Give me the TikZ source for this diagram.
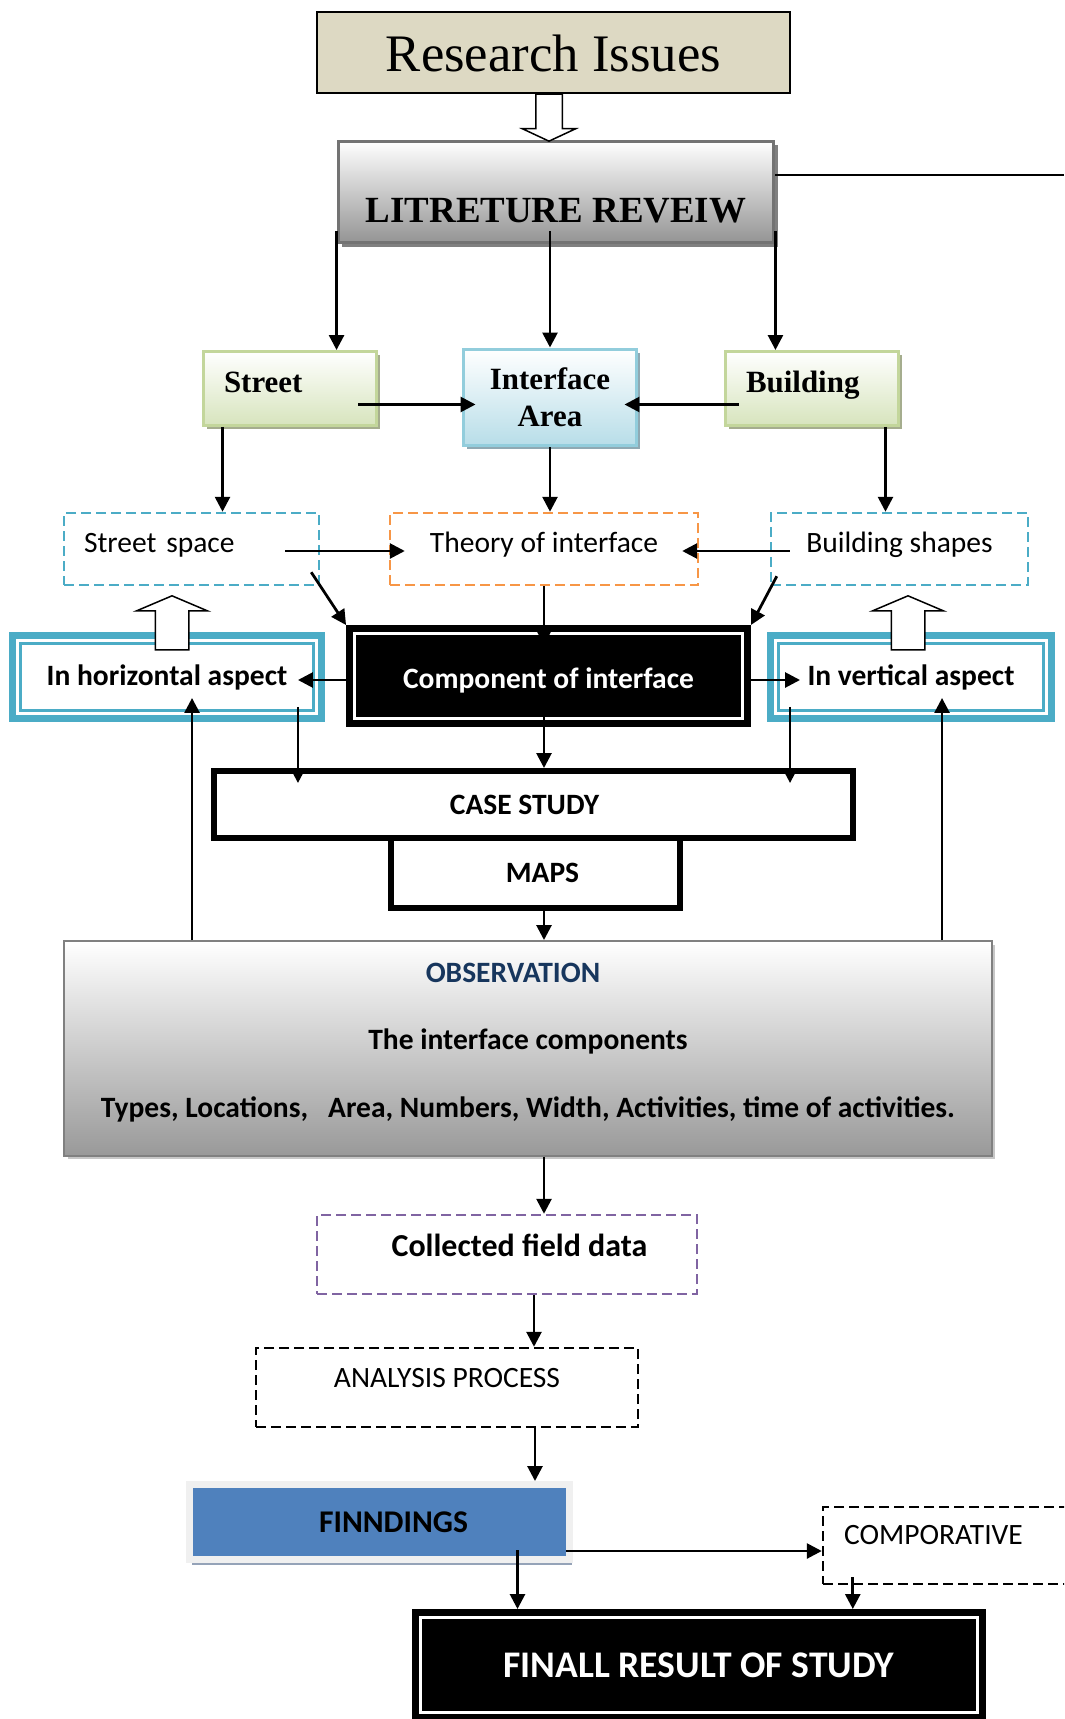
\documentclass[tikz,border=0pt]{standalone}
\usepackage{fontspec}
\setmainfont{Liberation Serif}
\newfontfamily\calfont{Carlito}
\usetikzlibrary{arrows.meta,positioning,shapes.arrows,shadows}
\definecolor{issuetan}{HTML}{DDD9C3}
\definecolor{leafgreen}{HTML}{D7E4BD}
\definecolor{leafedge}{HTML}{C3D69B}
\definecolor{leafshade}{HTML}{A5AD8E}
\definecolor{skyblue}{HTML}{B7DDE8}
\definecolor{skyedge}{HTML}{92CDDC}
\definecolor{skyshade}{HTML}{8FA9B3}
\definecolor{aspblue}{HTML}{4BACC6}
\definecolor{thorange}{HTML}{F79646}
\definecolor{datapurple}{HTML}{8064A2}
\definecolor{obsnavy}{HTML}{17365D}
\definecolor{findblue}{HTML}{4F81BD}
\definecolor{findshade}{HTML}{95A3B8}

\begin{document}
\begin{tikzpicture}[
  x=0.02cm, y=-0.02cm,   % 1 unit = 1 px of the original sheet, y pointing down
  >={Triangle[length=0.3cm,width=0.3cm]},
  link/.style    ={->, line width=0.055cm},
  calib/.style   ={font=\calfont\fontsize{16.8}{20}\selectfont},
  calibb/.style  ={font=\calfont\bfseries\fontsize{16.8}{20}\selectfont},
  issuebox/.style={draw, line width=0.04cm, fill=issuetan, minimum width=9.48cm, minimum height=1.62cm,
                   font=\fontsize{30}{36}\selectfont},
  litbox/.style  ={draw=black!55, line width=0.06cm, top color=white, bottom color=black!42,
                   drop shadow={shadow xshift=0.08cm, shadow yshift=-0.08cm, fill=black!50, opacity=1},
                   minimum width=8.72cm, inner ysep=0pt, text height=1.64cm, text depth=0.4cm,
                   font=\bfseries\fontsize{21}{25}\selectfont},
  leafbox/.style ={draw=leafedge, line width=0.06cm, top color=white, bottom color=leafgreen,
                   drop shadow={shadow xshift=0.07cm, shadow yshift=-0.07cm, fill=leafshade, opacity=1},
                   text width=2.64cm, align=left, inner xsep=0.42cm, inner ysep=0pt,
                   text height=0.82cm, text depth=0.66cm, font=\bfseries\fontsize{17.6}{21}\selectfont},
  skybox/.style  ={draw=skyedge, line width=0.06cm, top color=white, bottom color=skyblue,
                   drop shadow={shadow xshift=0.07cm, shadow yshift=-0.07cm, fill=skyshade, opacity=1},
                   minimum width=3.48cm, minimum height=1.94cm, align=center,
                   font=\bfseries\fontsize{17.6}{21}\selectfont},
  dashbox/.style ={draw, dash pattern=on 0.2cm off 0.1cm, line width=0.05cm, inner ysep=0pt,
                   text height=0.78cm, text depth=0.66cm, calib},
  aspect/.style  ={draw=aspblue, line width=0.14cm, fill=white, minimum height=1.66cm, calibb},
  blackbox/.style={draw=black, fill=black, line width=0.14cm, double=white, double distance=0.06cm,
                   outer sep=0.17cm, text=white},
  framebox/.style={draw, line width=0.12cm, fill=white, calibb},
  obsbox/.style  ={draw=black!50, line width=0.04cm, top color=white, bottom color=black!40,
                   drop shadow={shadow xshift=0.07cm, shadow yshift=-0.07cm, fill=black!22, opacity=1},
                   minimum width=18.56cm, inner ysep=0pt, text height=3.53cm, text depth=0.77cm, align=center,
                   font=\calfont\bfseries\fontsize{16.8}{38.5}\selectfont},
  findbox/.style ={draw=black!6, line width=0.14cm, fill=findblue,
                   drop shadow={shadow xshift=0.05cm, shadow yshift=-0.1cm, fill=findshade, opacity=1},
                   minimum width=7.6cm, minimum height=1.5cm,
                   font=\calfont\bfseries\fontsize{18}{22}\selectfont},
  hollow/.style  ={single arrow, draw, fill=white, line width=0.03cm, inner xsep=0pt,
                   single arrow head indent=0pt}
]
\useasboundingbox (0,0) rectangle (1064,1719);
\clip (0,0) rectangle (1064,1719);

% --- top of the chain
\node[issuebox] (issues) at (553.5,53) {Research Issues};
\node[litbox] (lit) at (556,192) {LITRETURE REVEIW};

% --- the three themes
\node[leafbox] (street) at (290,388.5) {Street};
\node[skybox] (iface) at (550,397.5) {Interface\\Area};
\node[leafbox] (building) at (812,388.5) {Building};

\node[dashbox, draw=aspblue, text width=4.3cm, align=left, inner xsep=0.4cm] (sspace) at (191.5,549) {Street space};
\node[dashbox, draw=thorange, minimum width=6.16cm] (theory) at (544,549) {Theory of interface};
\node[dashbox, draw=aspblue, minimum width=5.14cm] (bshapes) at (899.5,549) {Building shapes};

% --- components and case study
\node[aspect, minimum width=6.18cm] (horiz) at (167,677) {In horizontal aspect};
\node[blackbox, minimum width=7.76cm, inner ysep=0pt, text height=1.1cm, text depth=0.6cm, calibb] (comp) at (548.5,676) {Component of interface};
\node[aspect, minimum width=5.62cm] (vert) at (911,677) {In vertical aspect};
\foreach \n in {horiz,vert}
  \draw[aspblue, line width=0.06cm] ([shift={(11,-11)}]\n.south west) rectangle ([shift={(-11,11)}]\n.north east);

\node[framebox, minimum width=12.78cm, minimum height=1.34cm] (casest) at (533.5,804.5) {\hspace*{-0.36cm}CASE STUDY};
\node[framebox, minimum width=5.78cm, minimum height=1.4cm] (maps) at (535.5,873) {\hspace*{0.28cm}MAPS};

\node[obsbox] (obs) at (528,1048.5)
  {\hspace*{-0.6cm}\textcolor{obsnavy}{OBSERVATION}\\The interface components\\Types, Locations,\ \ \ Area, Numbers, Width, Activities, time of activities.};

% --- field work and results
\node[dashbox, draw=datapurple, minimum width=7.6cm, text height=0.82cm, text depth=0.76cm,
      font=\calfont\bfseries\fontsize{18.2}{22}\selectfont] (fielddata) at (507,1254.5) {\hspace*{0.5cm}Collected field data};
\node[dashbox, minimum width=7.64cm, text depth=0.8cm] (analysis) at (447,1387.5) {ANALYSIS PROCESS};
\node[findbox] (findings) at (379.5,1522) {\hspace*{0.56cm}FINNDINGS};
\node[dashbox, text width=4.3cm, align=left, inner xsep=0.42cm, text height=0.74cm, text depth=0.8cm] (compo) at (951.5,1545.5) {COMPORATIVE};
\node[blackbox, minimum width=11.14cm, minimum height=1.9cm, font=\calfont\bfseries\fontsize{21.4}{25}\selectfont] (final) at (699,1665) {FINALL RESULT OF STUDY};

% --- connectors
\draw[link] ([yshift=0.26cm]lit.south west) coordinate (lt1) -- (lt1 |- street.north);
\coordinate (lt2) at ([yshift=0.26cm]lit.south);
\draw[link] (iface.north |- lt2) -- (iface.north);
\draw[link] ([yshift=0.26cm]lit.south east) coordinate (lt3) -- (lt3 |- building.north);
\coordinate (edgeR) at (1064,175);
\draw[line width=0.05cm] (lit.east |- edgeR) -- (edgeR);

\draw[link, shorten >=-0.28cm] ([shift={(-20,16)}]street.east) coordinate (st1) -- (st1 -| iface.west);
\draw[link, shorten >=-0.28cm] ([shift={(15,16)}]building.west) coordinate (bd1) -- (bd1 -| iface.east);
\draw[link] ([xshift=0.42cm]street.south west) coordinate (st2) -- (st2 |- sspace.north);
\draw[link] (iface.south) -- (iface.south |- theory.north);
\draw[link] ([xshift=-0.3cm]building.south east) coordinate (bd2) -- (bd2 |- bshapes.north);
\draw[link, shorten >=-0.32cm] ([shift={(-35,2)}]sspace.east) coordinate (ss1) -- (ss1 -| theory.west);
\draw[link, shorten >=-0.34cm] ([shift={(20,2)}]bshapes.west) coordinate (bs1) -- (bs1 -| theory.east);
\draw[link] ([shift={(-9,-14)}]sspace.south east) -- (comp.north west);
\draw[link] ([shift={(7,-10)}]bshapes.south west) -- (comp.north east);

\coordinate (spine) at (theory.south);
\draw[link, shorten >=-0.4cm] (spine) -- (spine |- comp.north);
\draw[link, shorten >=-0.54cm] ([yshift=-0.08cm]comp.west) coordinate (cp1) -- (cp1 -| horiz.east);
\draw[link, shorten >=-0.66cm] ([yshift=-0.08cm]comp.east) coordinate (cp2) -- (cp2 -| vert.west);
\draw[link, shorten <=-0.4cm] (spine |- comp.south) -- (spine |- casest.north);
\draw[link, shorten >=-0.3cm] ([shift={(-27,-15)}]horiz.south east) coordinate (hz1) -- (hz1 |- casest.north);
\draw[link, shorten >=-0.3cm] ([shift={(23,-15)}]vert.south west) coordinate (vt1) -- (vt1 |- casest.north);
\draw[link] (spine |- maps.south) -- (spine |- obs.north);

\coordinate (hz2) at ([shift={(183,0)}]horiz.south west);
\coordinate (vt2) at ([shift={(175,0)}]vert.south west);
\draw[link, shorten >=-0.48cm] (hz2 |- obs.north) -- (hz2);
\draw[link, shorten >=-0.48cm] (vt2 |- obs.north) -- (vt2);

\draw[link] (spine |- obs.south) -- (spine |- fielddata.north);
\draw[link] ([xshift=0.54cm]fielddata.south) coordinate (fd1) -- (fd1 |- analysis.north);
\draw[link] ([xshift=1.76cm]analysis.south) coordinate (an1) -- (an1 |- findings.north);
\draw[link] ([shift={(138,28)}]findings.center) coordinate (fn1) -- (fn1 |- final.north);
\draw[link] ([shift={(-7,29)}]findings.east) coordinate (fn2) -- (fn2 -| compo.west);
\draw[link] ([shift={(31,-8)}]compo.south west) coordinate (cm1) -- (cm1 |- final.north);

% --- hollow block arrows
\node[hollow, rotate=-90, anchor=tip, inner ysep=0.25cm, single arrow head extend=0.27cm,
      single arrow tip angle=130, minimum height=0.94cm] (downarr) at (549,142) {};
\node[hollow, rotate=90, anchor=tip, inner ysep=0.32cm, single arrow head extend=0.38cm,
      single arrow tip angle=134, minimum height=1.08cm] (uparrL) at (172,595) {};
\node[hollow, rotate=90, anchor=tip, inner ysep=0.32cm, single arrow head extend=0.38cm,
      single arrow tip angle=134, minimum height=1.08cm] (uparrR) at (908,595) {};
\end{tikzpicture}
\end{document}
